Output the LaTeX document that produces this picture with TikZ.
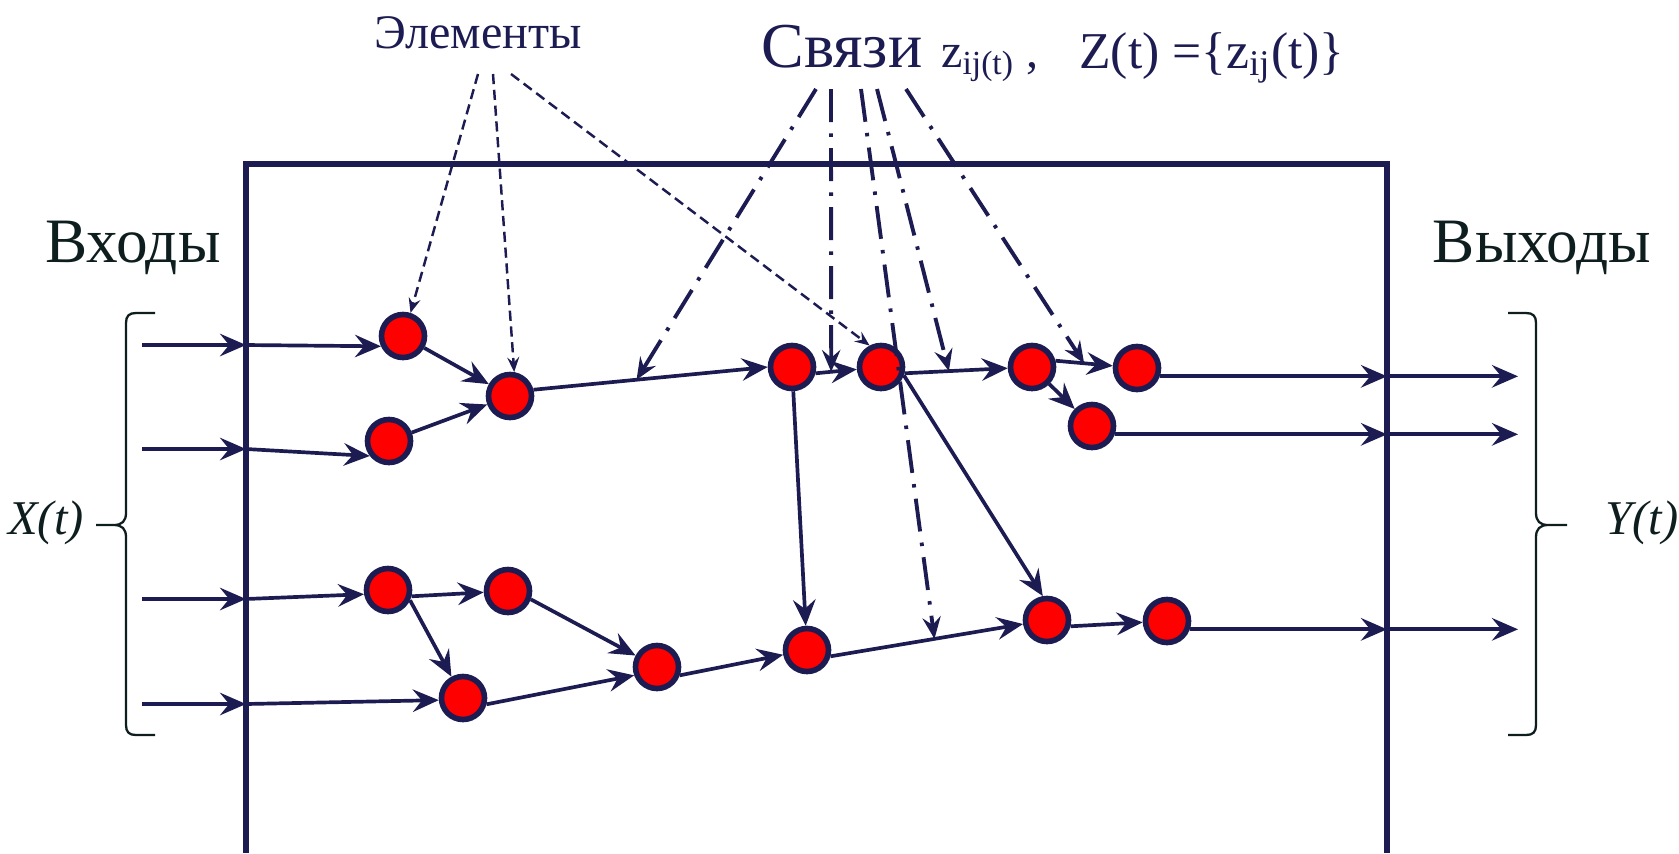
\documentclass[tikz,border=0pt]{standalone}
\usepackage{fontspec}
\setmainfont{Liberation Serif}
\usetikzlibrary{arrows.meta}
\definecolor{navy}{RGB}{29,28,82}
\definecolor{ink}{RGB}{14,30,30}
\tikzset{
  elt/.style  = {circle, draw=navy, fill=red, line width=1.6pt,
                 minimum size=4.3mm, inner sep=0pt},
  ar/.style   = {-{Stealth[length=7.4pt, width=6.4pt, inset=2.6pt]},
                 navy, line width=1.05pt},
  dsh/.style  = {-{Stealth[length=4.2pt, width=3.4pt, inset=1.5pt]},
                 navy, line width=0.7pt, dash pattern=on 2.9pt off 1.6pt},
  dd/.style   = {-{Stealth[length=6.2pt, width=5.2pt, inset=2.2pt]}, navy,
                 line width=1.1pt, dash pattern=on 9.4pt off 3.2pt on 1pt off 3.2pt},
  box/.style  = {navy, line width=1.5pt},
  brc/.style  = {ink, line width=0.65pt},
  lbl/.style  = {anchor=base, inner sep=0pt, text=navy,
                 font=\fontsize{13.7}{16}\selectfont},
  hdr/.style  = {anchor=base, inner sep=0pt, text=navy,
                 font=\fontsize{18.2}{21}\selectfont},
  side/.style = {anchor=base, inner sep=0pt, text=ink,
                 font=\fontsize{18}{21}\selectfont},
  fn/.style   = {anchor=base, inner sep=0pt, text=ink,
                 font=\itshape\fontsize{13.8}{16}\selectfont},
}
\begin{document}
\begin{tikzpicture}[x=0.1mm, y=-0.1mm]
  \useasboundingbox (0,0) rectangle (1679,853);
  \draw[box] (246,853) -- (246,164) -- (1387,164) -- (1387,853);

  \node[elt] (A) at (403,336) {};
  \node[elt] (B) at (510,396) {};
  \node[elt] (C) at (389,441) {};
  \node[elt] (D) at (792,367) {};
  \node[elt] (E) at (881,367) {};
  \node[elt] (F) at (1032,367) {};
  \node[elt] (G) at (1137,368) {};
  \node[elt] (H) at (1092,426) {};
  \node[elt] (I) at (388,590) {};
  \node[elt] (J) at (508,591) {};
  \node[elt] (K) at (463,698) {};
  \node[elt] (L) at (657,667) {};
  \node[elt] (M) at (807,650) {};
  \node[elt] (N) at (1047,620) {};
  \node[elt] (O) at (1167,621) {};

  \node[lbl] (elem) at (478,48) {Элементы};
  \node[hdr] (svz)  at (842,67) {Связи};
  \node[lbl] (zij)  at (990,67) {z\textsubscript{ij(t)} ,};
  \node[lbl, font=\fontsize{14.7}{17}\selectfont] (zset) at (1212,68)
    {Z(t) =\{z\textsubscript{ij}(t)\}};
  \node[side] (inp)  at (133,262)  {Входы};
  \node[side] (outp) at (1542,262) {Выходы};
  \node[fn] (xt) at (46,534)   {X(t)};
  \node[fn] (yt) at (1642,534) {Y(t)};

  \draw[brc] (155,313) -- (136,313) .. controls (129,313) and (126,316) .. (126,323)
    -- (126,513) .. controls (126,521) and (122,525) .. (114,525) -- (96,525)
    (114,525) .. controls (122,525) and (126,529) .. (126,537)
    -- (126,725) .. controls (126,732) and (129,735) .. (136,735) -- (155,735);
  \draw[brc] (1508,313) -- (1526,313) .. controls (1533,313) and (1536,316) .. (1536,323)
    -- (1536,513) .. controls (1536,521) and (1540,525) .. (1548,525) -- (1567,525)
    (1548,525) .. controls (1540,525) and (1536,529) .. (1536,537)
    -- (1536,725) .. controls (1536,732) and (1533,735) .. (1526,735) -- (1508,735);

  \foreach \i/\y in {1/345, 2/449, 3/599, 4/704} {
    \coordinate (x\i)  at (142,\y);
    \coordinate (bx\i) at (246,\y);
    \draw[ar] (x\i) -- (bx\i);
  }
  \draw[ar] (bx1) -- (A.205);
  \draw[ar] (bx2) -- (C.218);
  \draw[ar] (bx3) -- (I.190);
  \draw[ar] (bx4) -- (K.185);

  \coordinate (rb) at (1387,0);
  \coordinate (ro) at (1518,0);
  \foreach \n in {G,H,O} {
    \coordinate (by\n) at (\n.-20 -| rb);
    \coordinate (y\n)  at (\n.-20 -| ro);
    \draw[ar] (\n.-20) -- (by\n);
    \draw[ar] (by\n) -- (y\n);
  }

  \draw[ar] (A) -- (B);
  \draw[ar] (C) -- (B);
  \draw[ar] (B.15) -- coordinate[pos=.44] (zBD) (D.west);
  \draw[ar] (D.-15) -- coordinate[pos=.38] (zDE) (E);
  \draw[ar] (E.-15) -- coordinate[pos=.43] (zEF) (F);
  \draw[ar] (F.15) -- coordinate[pos=.5] (zFG) (G);
  \draw[ar] (F) -- (H);
  \draw[ar] (D) -- (M);
  \draw[ar] (E.-20) -- (N.100);
  \draw[ar] (I.-15) -- (J);
  \draw[ar] (I.-25) -- (K);
  \draw[ar] (J.-20) -- (L);
  \draw[ar] (K.-15) -- (L.200);
  \draw[ar] (L.-20) -- (M);
  \draw[ar] (M.-15) -- coordinate[pos=.54] (zMN) (N);
  \draw[ar] (N.-15) -- (O);

  \coordinate (e1) at (478,74);
  \coordinate (e2) at (493,74);
  \coordinate (e3) at (511,74);
  \draw[dsh] (e1) -- (A.72);
  \draw[dsh] (e2) -- (B.80);
  \draw[dsh] (e3) -- (E.118);

  \coordinate (c1) at (816,89);
  \coordinate (c2) at (831,89);
  \coordinate (c3) at (861,89);
  \coordinate (c4) at (877,89);
  \coordinate (c5) at (906,89);
  \draw[dd] (c1) -- (zBD);
  \draw[dd] (c2) -- (zDE);
  \draw[dd] (c3) -- (zMN);
  \draw[dd] (c4) -- (zEF);
  \draw[dd] (c5) -- (zFG);
\end{tikzpicture}
\end{document}
